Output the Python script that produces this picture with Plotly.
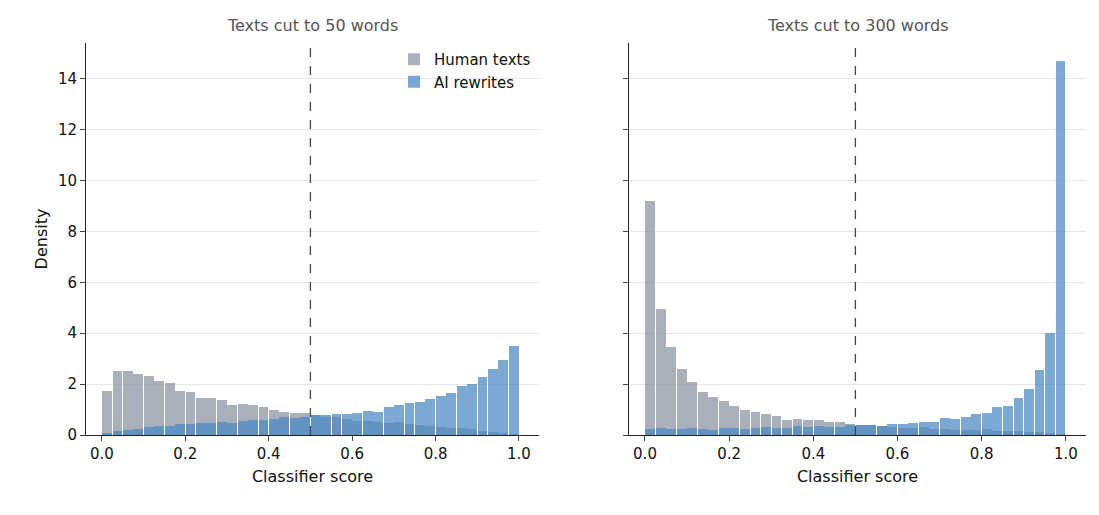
import numpy as np
import plotly.graph_objects as go

bin_centers = [round(0.0125 + 0.025 * i, 4) for i in range(40)]

human_50 = [1.73, 2.52, 2.52, 2.40, 2.32, 2.12, 2.04, 1.73, 1.69, 1.45,
            1.45, 1.38, 1.18, 1.22, 1.18, 1.10, 0.98, 0.90, 0.87, 0.87,
            0.79, 0.71, 0.71, 0.63, 0.55, 0.55, 0.51, 0.47, 0.51, 0.43,
            0.39, 0.35, 0.31, 0.28, 0.28, 0.24, 0.16, 0.12, 0.08, 0.04]
ai_50 = [0.08, 0.16, 0.20, 0.24, 0.31, 0.35, 0.35, 0.43, 0.43, 0.47,
         0.47, 0.51, 0.47, 0.55, 0.59, 0.59, 0.63, 0.71, 0.67, 0.71,
         0.79, 0.79, 0.83, 0.83, 0.87, 0.94, 0.90, 1.10, 1.18, 1.26,
         1.30, 1.42, 1.53, 1.65, 1.93, 2.01, 2.28, 2.60, 2.95, 3.50]
human_300 = [9.2, 4.95, 3.46, 2.60, 2.08, 1.69, 1.49, 1.34, 1.14, 0.98,
             0.90, 0.83, 0.75, 0.59, 0.63, 0.59, 0.59, 0.51, 0.51, 0.43,
             0.39, 0.39, 0.35, 0.31, 0.28, 0.28, 0.31, 0.24, 0.24, 0.20,
             0.20, 0.20, 0.24, 0.16, 0.16, 0.16, 0.12, 0.12, 0.08, 0.04]
ai_300 = [0.24, 0.28, 0.24, 0.24, 0.28, 0.24, 0.20, 0.28, 0.28, 0.24,
          0.28, 0.31, 0.28, 0.28, 0.35, 0.31, 0.35, 0.31, 0.31, 0.39,
          0.39, 0.39, 0.35, 0.43, 0.43, 0.47, 0.51, 0.51, 0.67, 0.63,
          0.71, 0.83, 0.87, 1.10, 1.14, 1.45, 1.81, 2.56, 4.00, 14.7]

titles = ["Texts cut to 50 words", "Texts cut to 300 words"]
x_ticks = [0.0, 0.2, 0.4, 0.6, 0.8, 1.0]
y_ticks = [0, 2, 4, 6, 8, 10, 12, 14]

human_color = "rgba(140,149,164,0.75)"
ai_color = "rgba(74,134,196,0.72)"
font = "DejaVu Sans"

fig = go.Figure()
for i, (h, a) in enumerate([(human_50, ai_50), (human_300, ai_300)]):
    xa = "x" if i == 0 else "x2"
    ya = "y" if i == 0 else "y2"
    fig.add_trace(go.Bar(x=bin_centers, y=h, width=0.0235, marker_color=human_color,
                         marker_line_width=0, name="Human texts", showlegend=(i == 0),
                         xaxis=xa, yaxis=ya))
    fig.add_trace(go.Bar(x=bin_centers, y=a, width=0.0235, marker_color=ai_color,
                         marker_line_width=0, name="AI rewrites", showlegend=(i == 0),
                         xaxis=xa, yaxis=ya))
    fig.add_shape(type="line", x0=0.5, x1=0.5, y0=0, y1=1, xref=xa, yref=ya + " domain",
                  line=dict(color="#444", width=1.3, dash="dash"))
    fig.add_annotation(text=titles[i], x=0.5, y=1.015, xref=xa + " domain", yref="paper",
                       yanchor="bottom", showarrow=False,
                       font=dict(size=16, color="#555", family=font))

xcommon = dict(range=[-0.038, 1.048], tickvals=x_ticks, ticktext=[f"{v:.1f}" for v in x_ticks],
               ticks="outside", ticklen=5, showline=True, linecolor="#222", showgrid=False,
               zeroline=False, title=dict(text="Classifier score", font=dict(size=16), standoff=8),
               tickfont=dict(size=15))
ycommon = dict(range=[0, 15.4], tickvals=y_ticks, ticks="outside", ticklen=5, showline=True,
               linecolor="#222", gridcolor="#e6e6e6", zeroline=False, tickfont=dict(size=15))

fig.update_layout(
    width=1099, height=515, barmode="overlay", bargap=0,
    plot_bgcolor="white", paper_bgcolor="white",
    font=dict(family=font, color="#111"),
    margin=dict(l=78, r=21, t=35, b=88),
    xaxis=dict(domain=[0, 0.453], **xcommon),
    xaxis2=dict(domain=[0.543, 1.0], anchor="y2", **xcommon),
    yaxis=dict(title=dict(text="Density", font=dict(size=16), standoff=6), **ycommon),
    yaxis2=dict(anchor="x2", showticklabels=False, **ycommon),
    legend=dict(x=0.45, y=1.0, xanchor="right", yanchor="top", bgcolor="rgba(0,0,0,0)",
                font=dict(size=15)),
)

fig.write_html("out.html")
